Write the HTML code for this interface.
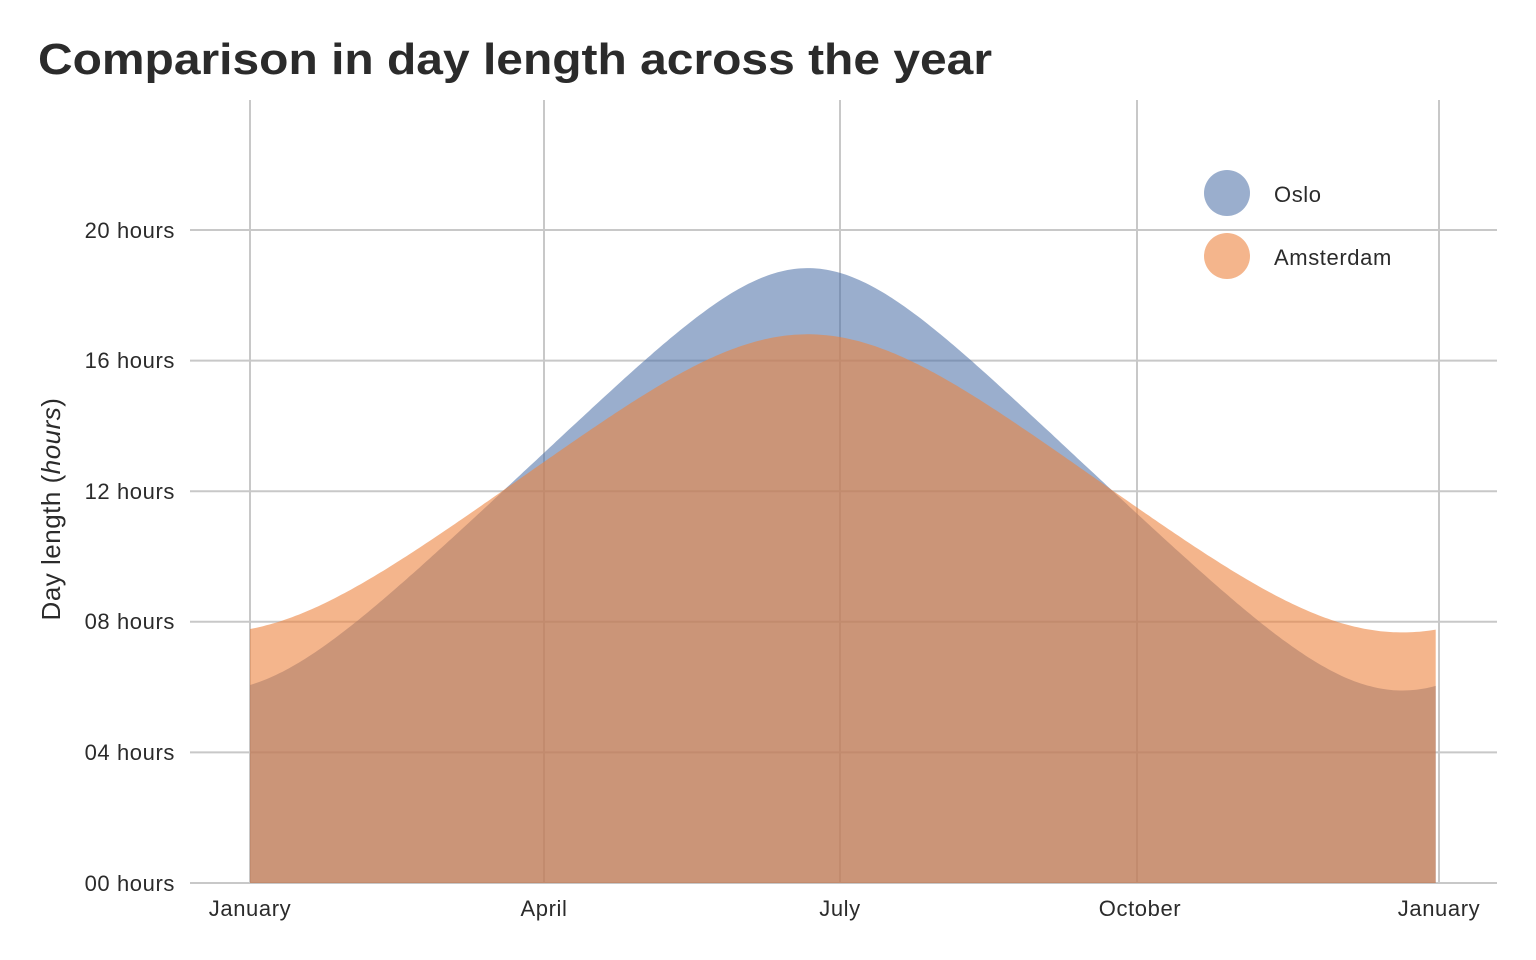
<!DOCTYPE html>
<html><head><meta charset="utf-8"><style>
html,body{margin:0;padding:0;background:#fff;}
svg{display:block;font-family:"Liberation Sans",sans-serif;}
</style></head><body>
<svg id="s" width="1536" height="960" xmlns="http://www.w3.org/2000/svg">
<text x="38" y="74" font-size="44" font-weight="bold" fill="#2b2b2b" textLength="954" lengthAdjust="spacingAndGlyphs">Comparison in day length across the year</text>
<g stroke="#c8c8c8" stroke-width="2">
<line x1="190" x2="1497" y1="230" y2="230"/>
<line x1="190" x2="1497" y1="360.6" y2="360.6"/>
<line x1="190" x2="1497" y1="491.2" y2="491.2"/>
<line x1="190" x2="1497" y1="621.8" y2="621.8"/>
<line x1="190" x2="1497" y1="752.4" y2="752.4"/>
<line x1="190" x2="1497" y1="883" y2="883"/>
<line x1="250" x2="250" y1="100" y2="883"/>
<line x1="544" x2="544" y1="100" y2="883"/>
<line x1="840" x2="840" y1="100" y2="883"/>
<line x1="1137" x2="1137" y1="100" y2="883"/>
<line x1="1439" x2="1439" y1="100" y2="883"/>
</g>
<path id="oslo" fill="#4b6fa5" fill-opacity="0.56"/>
<path id="ams" fill="#ec8440" fill-opacity="0.6"/>
<g font-size="22" fill="#2b2b2b" text-anchor="end" letter-spacing="0.6">
<text x="175" y="238">20 hours</text>
<text x="175" y="368">16 hours</text>
<text x="175" y="499">12 hours</text>
<text x="175" y="629">08 hours</text>
<text x="175" y="760">04 hours</text>
<text x="175" y="891">00 hours</text>
</g>
<g font-size="22" fill="#2b2b2b" text-anchor="middle" letter-spacing="0.6">
<text x="250" y="916">January</text>
<text x="544" y="916">April</text>
<text x="840" y="916">July</text>
<text x="1140" y="916">October</text>
<text x="1439" y="916">January</text>
</g>
<text transform="translate(60,509) rotate(-90)" font-size="26" fill="#2b2b2b" text-anchor="middle" letter-spacing="0.5">Day length (<tspan font-style="italic">hours</tspan>)</text>
<circle cx="1227" cy="193" r="23" fill="#4b6fa5" fill-opacity="0.56"/>
<circle cx="1227" cy="256" r="23" fill="#ec8440" fill-opacity="0.6"/>
<text x="1274" y="202" font-size="22" fill="#2b2b2b" letter-spacing="0.6">Oslo</text>
<text x="1274" y="265" font-size="22" fill="#2b2b2b" letter-spacing="0.6">Amsterdam</text>
</svg>
<script>
function dl(lat,d){var r=Math.PI/180;var dec=23.44*Math.sin(2*Math.PI*(284+d)/365)*r;var L=lat*r;
var c=(Math.sin(-0.833*r)-Math.sin(L)*Math.sin(dec))/(Math.cos(L)*Math.cos(dec));c=Math.max(-1,Math.min(1,c));return 24/Math.PI*Math.acos(c);}
function p(lat){var s="M250,883";for(var d=0;d<=364;d++){var x=250+d*(1439-250)/365;var y=883-dl(lat,d+1)*32.65;s+=" L"+x.toFixed(1)+","+y.toFixed(1);}
s+=" L"+(250+364*(1189/365)).toFixed(1)+",883 Z";return s;}
document.getElementById("oslo").setAttribute("d",p(59.91));
document.getElementById("ams").setAttribute("d",p(52.37));
</script>
</body></html>
